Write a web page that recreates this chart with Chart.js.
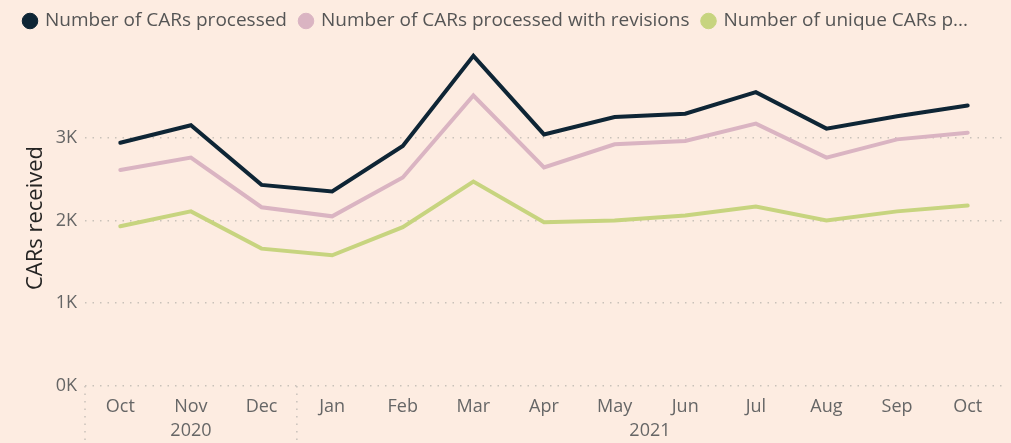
<!DOCTYPE html>
<html>
<head>
<meta charset="utf-8">
<script src="https://cdn.jsdelivr.net/npm/chart.js@4"></script>
<style>
  html, body { margin: 0; padding: 0; background: #fdece1; }
  #wrap { width: 1011px; height: 443px; }
</style>
</head>
<body>
<div id="wrap"><canvas id="carsChart" width="1011" height="443"></canvas></div>
<script>
// Months shown on the x axis, with the year each one belongs to
const months = ['Oct', 'Nov', 'Dec', 'Jan', 'Feb', 'Mar', 'Apr', 'May', 'Jun', 'Jul', 'Aug', 'Sep', 'Oct'];
const years = ['2020', '2020', '2020', '2021', '2021', '2021', '2021', '2021', '2021', '2021', '2021', '2021', '2021'];

// Series values (CARs)
const processed = [2940, 3150, 2430, 2350, 2900, 3990, 3040, 3250, 3290, 3550, 3110, 3260, 3390];
const processedWithRevisions = [2610, 2760, 2160, 2050, 2520, 3510, 2640, 2920, 2960, 3170, 2760, 2980, 3060];
const uniqueProcessed = [1930, 2110, 1660, 1580, 1920, 2470, 1980, 2000, 2060, 2170, 2000, 2110, 2180];

const yTicks = [0, 1000, 2000, 3000];

const textGrey = '#666666';
const gridGrey = '#c9c1ba';
const topPad = -2;

// Fixes the legend block height so the plot starts where it does in Power BI
const legendHeight = {
    id: 'legendHeight',
    beforeInit(chart) {
        const fit = chart.legend.fit;
        chart.legend.fit = function () {
            fit.bind(chart.legend)();
            this.height = 50 - topPad;
        };
    }
};

// Year labels under the months plus the dotted group separators
const yearGroups = {
    id: 'yearGroups',
    afterDraw(chart) {
        const ctx = chart.ctx;
        const x = chart.scales.x;
        const area = chart.chartArea;
        ctx.save();
        ctx.strokeStyle = gridGrey;
        ctx.lineWidth = 1.5;
        ctx.setLineDash([1.5, 6]);

        const separators = [x.left];
        let start = 0;
        for (let i = 1; i <= years.length; i++) {
            if (i === years.length || years[i] !== years[start]) {
                const cx = (x.getPixelForValue(start) + x.getPixelForValue(i - 1)) / 2;
                ctx.fillStyle = textGrey;
                ctx.font = '18px "Open Sans"';
                ctx.textAlign = 'center';
                ctx.textBaseline = 'middle';
                ctx.fillText(years[start], cx, 431);
                if (i < years.length) {
                    separators.push((x.getPixelForValue(i - 1) + x.getPixelForValue(i)) / 2);
                }
                start = i;
            }
        }
        separators.forEach(sx => {
            ctx.beginPath();
            ctx.moveTo(sx, area.bottom);
            ctx.lineTo(sx, chart.height);
            ctx.stroke();
        });
        ctx.restore();
    }
};

new Chart(document.getElementById('carsChart'), {
    type: 'line',
    data: {
        labels: months,
        datasets: [{
            label: 'Number of CARs processed',
            data: processed,
            borderColor: '#0e2535',
            backgroundColor: '#0e2535'
        }, {
            label: 'Number of CARs processed with revisions',
            data: processedWithRevisions,
            borderColor: '#dab4c2',
            backgroundColor: '#dab4c2'
        }, {
            label: 'Number of unique CARs p...',
            data: uniqueProcessed,
            borderColor: '#c7d47f',
            backgroundColor: '#c7d47f'
        }]
    },
    options: {
        responsive: false,
        animation: false,
        layout: { padding: { left: 11, right: 8, top: topPad, bottom: 0 } },
        elements: {
            line: { borderWidth: 4, tension: 0, borderCapStyle: 'round', borderJoinStyle: 'miter' },
            point: { radius: 0, hoverRadius: 0 }
        },
        plugins: {
            tooltip: { enabled: false },
            legend: {
                position: 'top',
                align: 'start',
                labels: {
                    usePointStyle: true,
                    pointStyle: 'circle',
                    boxWidth: 11,
                    boxHeight: 11,
                    padding: 13.5,
                    color: '#555555',
                    font: { family: 'Open Sans', size: 19 }
                }
            }
        },
        scales: {
            x: {
                offset: true,
                grid: { display: false },
                border: { display: false },
                ticks: {
                    color: textGrey,
                    padding: 2,
                    maxRotation: 0,
                    autoSkip: false,
                    font: { family: 'Open Sans', size: 18 }
                },
                afterFit(scale) { scale.height = 57; }
            },
            y: {
                min: 0,
                max: 4060,
                afterBuildTicks(scale) {
                    scale.ticks = yTicks.map(v => ({ value: v }));
                },
                grid: {
                    color: gridGrey,
                    lineWidth: 1.5,
                    drawTicks: false
                },
                border: { display: false, dash: [1.5, 6] },
                ticks: {
                    color: textGrey,
                    padding: 8,
                    font: { family: 'Open Sans', size: 18 },
                    callback: v => (v / 1000) + 'K'
                },
                title: {
                    display: true,
                    text: 'CARs received',
                    color: '#252423',
                    padding: { top: 12, bottom: 0 },
                    font: { family: 'Open Sans', size: 22 }
                },
                afterFit(scale) { scale.width = 74; }
            }
        }
    },
    plugins: [legendHeight, yearGroups]
});
</script>
</body>
</html>
